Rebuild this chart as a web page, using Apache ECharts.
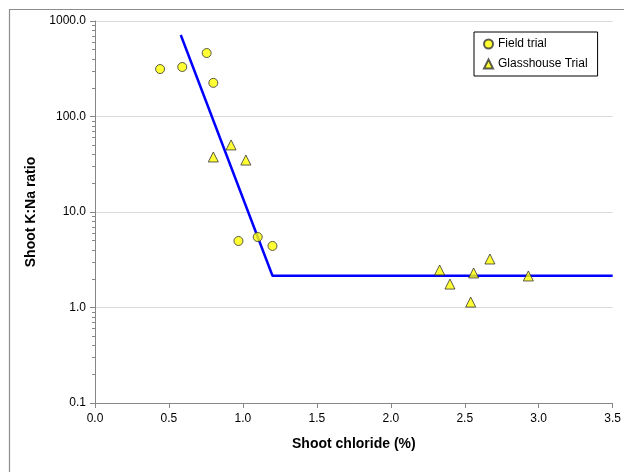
<!DOCTYPE html>
<html>
<head>
<meta charset="utf-8">
<script src="https://cdn.jsdelivr.net/npm/echarts@6/dist/echarts.min.js"></script>
<style>
  html, body { margin: 0; padding: 0; background: #fff; }
  #chart { width: 624px; height: 472px; }
</style>
</head>
<body>
<div id="chart"></div>
<script>
// Field trial: [shoot chloride %, K:Na ratio]
const fieldTrial = [
  [0.44, 314], [0.59, 330], [0.755, 462], [0.80, 225],
  [0.97, 4.97], [1.10, 5.47], [1.20, 4.41]
];
// Glasshouse trial
const glasshouseTrial = [
  [0.80, 37.7], [0.92, 50.4], [1.02, 35.0],
  [2.33, 2.47], [2.40, 1.76], [2.54, 1.14], [2.56, 2.30],
  [2.67, 3.22], [2.93, 2.14]
];
// broken-stick fit
const fitLine = [[0.58, 713], [1.20, 2.15], [3.5, 2.15]];

const font = 'Liberation Sans';
const chart = echarts.init(document.getElementById('chart'));
const option = {
  animation: false,
  backgroundColor: '#fff',
  textStyle: { fontFamily: font },
  graphic: [{
    type: 'rect',
    shape: { x: 9.5, y: 9.5, width: 700, height: 700 },
    style: { fill: 'none', stroke: '#8c8c8c', lineWidth: 1.2 },
    silent: true
  }],
  grid: { left: 95, right: 10, top: 21, bottom: 69 },
  legend: {
    orient: 'vertical',
    left: 474, top: 32,
    width: 124,
    padding: [6, 10, 6, 9],
    itemGap: 8,
    itemWidth: 9, itemHeight: 9,
    borderColor: '#000', borderWidth: 1,
    backgroundColor: '#fff',
    textStyle: { fontFamily: font, fontSize: 12, color: '#000' },
    data: ['Field trial', 'Glasshouse Trial']
  },
  xAxis: {
    type: 'value',
    min: 0, max: 3.5, interval: 0.5,
    name: 'Shoot chloride (%)',
    nameLocation: 'middle', nameGap: 34,
    nameTextStyle: { fontFamily: font, fontSize: 14, fontWeight: 'bold', color: '#000' },
    axisLine: { lineStyle: { color: '#868686' } },
    axisTick: { show: true, length: 5, lineStyle: { color: '#868686' } },
    axisLabel: { fontFamily: font, fontSize: 12, color: '#000', margin: 10,
      formatter: v => v.toFixed(1) },
    splitLine: { show: false }
  },
  yAxis: {
    type: 'log', logBase: 10,
    min: 0.1, max: 1000,
    name: 'Shoot K:Na ratio',
    nameLocation: 'middle', nameGap: 55,
    nameTextStyle: { fontFamily: font, fontSize: 14, fontWeight: 'bold', color: '#000' },
    axisLine: { show: true, lineStyle: { color: '#868686' } },
    axisTick: { show: true, length: 5, lineStyle: { color: '#868686' } },
    minorTick: { show: true, splitNumber: 9, length: 3, lineStyle: { color: '#868686' } },
    axisLabel: { fontFamily: font, fontSize: 12, color: '#000', margin: 9,
      formatter: v => Number(v).toFixed(1) },
    splitLine: { show: true, lineStyle: { color: '#d9d9d9', width: 1 } }
  },
  series: [
    {
      name: 'fit',
      type: 'line',
      data: fitLine,
      symbol: 'none',
      lineStyle: { color: '#0000ff', width: 2.5 },
      z: 1
    },
    {
      name: 'Field trial',
      type: 'scatter',
      data: fieldTrial,
      symbol: 'circle',
      symbolSize: 9,
      itemStyle: { color: '#ffff00', borderColor: '#333', borderWidth: 1 },
      z: 3
    },
    {
      name: 'Glasshouse Trial',
      type: 'scatter',
      data: glasshouseTrial,
      symbol: 'triangle',
      symbolSize: 10,
      itemStyle: { color: '#ffff00', borderColor: '#333', borderWidth: 1 },
      z: 3
    }
  ]
};
chart.setOption(option);
window.addEventListener('resize', () => chart.resize());
</script>
</body>
</html>
